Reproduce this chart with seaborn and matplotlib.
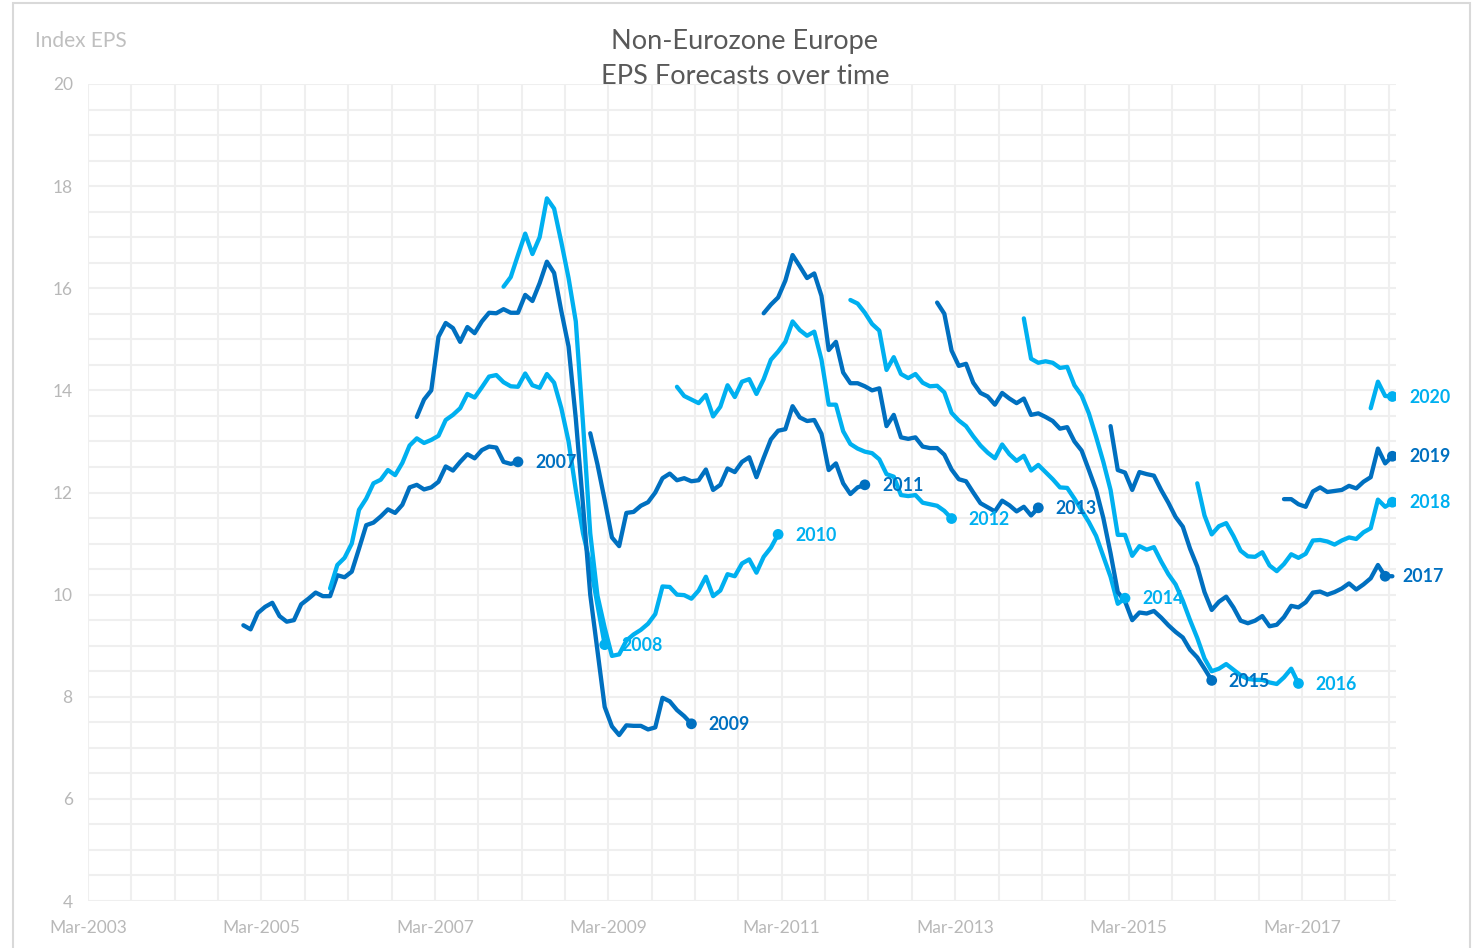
import numpy as np
import pandas as pd
import matplotlib
matplotlib.use("Agg")
import matplotlib.pyplot as plt
import seaborn as sns
from matplotlib.patches import Rectangle

# ---------------- data (monthly EPS forecasts, one list per forecast year) ----------------
years = [2007, 2008, 2009, 2010, 2011, 2012, 2013, 2014, 2015, 2016, 2017, 2018, 2019, 2020]
start_months = ["2004-12", "2005-12", "2006-12", "2007-12", "2008-12", "2009-12", "2010-12",
                "2011-12", "2012-12", "2013-12", "2014-12", "2015-12", "2016-12", "2017-12"]

eps_2007 = [9.40, 9.32, 9.64, 9.76, 9.84, 9.58, 9.47, 9.50, 9.81, 9.92, 10.04, 9.97, 9.97, 10.38,
            10.34, 10.45, 10.90, 11.36, 11.41, 11.53, 11.67, 11.60, 11.76, 12.10, 12.15, 12.06,
            12.10, 12.21, 12.51, 12.43, 12.60, 12.75, 12.67, 12.83, 12.90, 12.88, 12.60, 12.56, 12.60]
eps_2008 = [10.12, 10.58, 10.72, 11.00, 11.66, 11.88, 12.18, 12.25, 12.44, 12.34, 12.58, 12.92,
            13.06, 12.97, 13.03, 13.11, 13.42, 13.52, 13.65, 13.93, 13.86, 14.06, 14.27, 14.30,
            14.16, 14.08, 14.07, 14.33, 14.10, 14.05, 14.32, 14.15, 13.65, 13.00, 12.05, 11.20,
            10.60, 9.80, 9.02]
eps_2009 = [13.48, 13.82, 14.00, 15.05, 15.32, 15.22, 14.95, 15.24, 15.12, 15.35, 15.52, 15.51,
            15.59, 15.52, 15.52, 15.87, 15.75, 16.10, 16.52, 16.30, 15.55, 14.86, 13.45, 11.75,
            10.00, 8.90, 7.80, 7.42, 7.25, 7.44, 7.43, 7.43, 7.36, 7.40, 7.98, 7.91, 7.74, 7.62, 7.47]
eps_2010 = [16.03, 16.22, 16.65, 17.07, 16.67, 17.00, 17.76, 17.56, 16.90, 16.20, 15.35, 13.35,
            11.20, 9.98, 9.35, 8.80, 8.83, 9.10, 9.22, 9.31, 9.43, 9.62, 10.16, 10.15, 10.00, 9.99,
            9.92, 10.08, 10.35, 9.97, 10.08, 10.40, 10.36, 10.61, 10.69, 10.43, 10.74, 10.92, 11.18]
eps_2011 = [13.16, 12.55, 11.85, 11.12, 10.95, 11.60, 11.62, 11.74, 11.81, 12.00, 12.28, 12.37,
            12.24, 12.28, 12.22, 12.24, 12.45, 12.05, 12.15, 12.47, 12.40, 12.60, 12.69, 12.30,
            12.68, 13.04, 13.21, 13.24, 13.69, 13.47, 13.40, 13.42, 13.15, 12.44, 12.57, 12.18,
            11.97, 12.10, 12.15]
eps_2012 = [14.07, 13.89, 13.82, 13.75, 13.91, 13.49, 13.68, 14.10, 13.87, 14.17, 14.22, 13.93,
            14.22, 14.60, 14.76, 14.95, 15.35, 15.18, 15.07, 15.15, 14.60, 13.72, 13.72, 13.20,
            12.95, 12.86, 12.80, 12.77, 12.65, 12.36, 12.31, 11.95, 11.93, 11.95, 11.80, 11.77,
            11.74, 11.64, 11.49]
eps_2013 = [15.51, 15.68, 15.82, 16.15, 16.65, 16.43, 16.20, 16.29, 15.85, 14.79, 14.95, 14.35,
            14.14, 14.14, 14.08, 14.00, 14.04, 13.30, 13.52, 13.08, 13.05, 13.08, 12.90, 12.87,
            12.87, 12.74, 12.45, 12.26, 12.22, 12.00, 11.79, 11.71, 11.63, 11.84, 11.75, 11.63,
            11.72, 11.55, 11.70]
eps_2014 = [15.77, 15.70, 15.52, 15.30, 15.17, 14.40, 14.65, 14.32, 14.24, 14.32, 14.15, 14.08,
            14.09, 13.96, 13.56, 13.41, 13.30, 13.10, 12.92, 12.78, 12.67, 12.94, 12.75, 12.62,
            12.72, 12.43, 12.54, 12.40, 12.26, 12.10, 12.09, 11.88, 11.65, 11.42, 11.15, 10.75,
            10.35, 9.82, 9.93]
eps_2015 = [15.72, 15.50, 14.78, 14.48, 14.52, 14.15, 13.95, 13.88, 13.72, 13.95, 13.84, 13.75,
            13.84, 13.52, 13.55, 13.48, 13.40, 13.25, 13.28, 13.00, 12.82, 12.44, 12.05, 11.50,
            10.81, 10.05, 9.87, 9.50, 9.65, 9.63, 9.68, 9.55, 9.40, 9.27, 9.16, 8.92, 8.77, 8.55, 8.32]
eps_2016 = [15.41, 14.62, 14.54, 14.57, 14.54, 14.44, 14.46, 14.10, 13.90, 13.55, 13.09, 12.60,
            12.05, 11.17, 11.17, 10.76, 10.95, 10.88, 10.93, 10.65, 10.40, 10.20, 9.88, 9.50, 9.15,
            8.75, 8.50, 8.55, 8.64, 8.53, 8.42, 8.35, 8.33, 8.33, 8.28, 8.25, 8.38, 8.55, 8.26]
eps_2017 = [13.30, 12.44, 12.39, 12.05, 12.40, 12.36, 12.33, 12.05, 11.80, 11.52, 11.33, 10.90,
            10.55, 10.05, 9.70, 9.86, 9.96, 9.75, 9.49, 9.44, 9.49, 9.58, 9.38, 9.41, 9.56, 9.78,
            9.75, 9.85, 10.04, 10.06, 10.00, 10.05, 10.12, 10.22, 10.10, 10.20, 10.32, 10.58,
            10.36, 10.36]
eps_2018 = [12.18, 11.55, 11.18, 11.34, 11.40, 11.15, 10.86, 10.75, 10.74, 10.83, 10.57, 10.46,
            10.60, 10.79, 10.72, 10.80, 11.06, 11.07, 11.04, 10.98, 11.06, 11.12, 11.09, 11.22,
            11.30, 11.86, 11.72, 11.81]
eps_2019 = [11.87, 11.87, 11.77, 11.72, 12.02, 12.10, 12.01, 12.03, 12.05, 12.13, 12.08, 12.21,
            12.30, 12.86, 12.57, 12.71]
eps_2020 = [13.65, 14.17, 13.89, 13.88]

eps_series = [eps_2007, eps_2008, eps_2009, eps_2010, eps_2011, eps_2012, eps_2013,
              eps_2014, eps_2015, eps_2016, eps_2017, eps_2018, eps_2019, eps_2020]

x_tick_labels = ["Mar-2003", "Mar-2005", "Mar-2007", "Mar-2009",
                 "Mar-2011", "Mar-2013", "Mar-2015", "Mar-2017"]
y_tick_values = [4, 6, 8, 10, 12, 14, 16, 18, 20]

DARK = "#0070C0"
LIGHT = "#00B0F0"
palette = {y: (DARK if y % 2 == 1 else LIGHT) for y in years}

# ---------------- build long table ----------------
base = pd.Period("2003-03", freq="M")
rows = []
label_rows = []
for yr, start, vals in zip(years, start_months, eps_series):
    p0 = pd.Period(start, freq="M")
    periods = [p0 + i for i in range(len(vals))]
    xs = [(p - base).n + 0.5 for p in periods]
    for xv, v in zip(xs, vals):
        rows.append({"year": yr, "x": xv, "eps": v})
    # label sits on Feb of the following year, or the last available month
    lab_p = pd.Period(f"{yr + 1}-02", freq="M")
    idx = periods.index(lab_p) if lab_p in periods else len(vals) - 1
    label_rows.append({"year": yr, "x": xs[idx], "eps": vals[idx]})
df = pd.DataFrame(rows)
labels = pd.DataFrame(label_rows)

# ---------------- figure ----------------
sns.set_style("white")
plt.rcParams["font.family"] = ["Lato", "DejaVu Sans"]

W, H = 1475, 948
fig = plt.figure(figsize=(W / 100, H / 100), dpi=100)
L, R, T, B = 88, 1396, 84, 901
ax = fig.add_axes([L / W, 1 - B / H, (R - L) / W, (B - T) / H])

sns.lineplot(data=df, x="x", y="eps", hue="year", palette=palette, units="year",
             estimator=None, sort=False, linewidth=3.1, legend=False, ax=ax,
             solid_joinstyle="round", solid_capstyle="round", zorder=3)
sns.scatterplot(data=labels, x="x", y="eps", hue="year", palette=palette, s=60,
                linewidth=0, legend=False, ax=ax, zorder=4)

for _, r in labels.iterrows():
    ax.annotate(str(int(r["year"])), xy=(r["x"], r["eps"]), xytext=(12.3, -0.5),
                textcoords="offset points", ha="left", va="center",
                fontsize=12.8, fontweight="bold", color=palette[int(r["year"])], zorder=6)

# axes, grid
ax.set_xlim(0, 181)
ax.set_ylim(4, 20)
ax.set_xticks(np.arange(0, 169, 24))
ax.set_xticklabels(x_tick_labels)
ax.set_xticks(np.arange(0, 181, 6), minor=True)
ax.set_yticks(y_tick_values)
ax.set_yticklabels([str(v) for v in y_tick_values])
ax.set_yticks(np.arange(4, 20.01, 0.5), minor=True)
ax.grid(True, which="both", color="#efefef", linewidth=1.5)
ax.set_axisbelow(True)
for s in ax.spines.values():
    s.set_visible(False)
ax.tick_params(axis="both", which="both", length=0, labelsize=12.5, labelcolor="#b8b8b8")
ax.tick_params(axis="x", pad=14)
ax.tick_params(axis="y", pad=11)
ax.set_xlabel("")
ax.set_ylabel("")

# titles
fig.text(744 / W, 1 - 41 / H, "Non-Eurozone Europe", ha="center", va="center",
         fontsize=19.5, color="#595959")
fig.text(745 / W, 1 - 77 / H, "EPS Forecasts over time", ha="center", va="center",
         fontsize=19.5, color="#595959")
fig.text(35 / W, 1 - 41 / H, "Index EPS", ha="left", va="center",
         fontsize=15, color="#bfbfbf")

# chart border
fig.patches.append(Rectangle((13 / W, -0.05), (1470 - 13) / W, 1.05 - 3 / H,
                             transform=fig.transFigure, fill=False,
                             edgecolor="#d9d9d9", linewidth=1.5))

fig.savefig("out.png", dpi=100)
